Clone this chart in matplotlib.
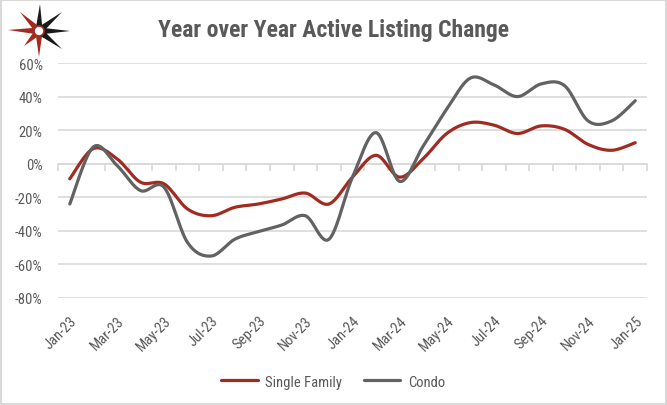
import numpy as np
import matplotlib
matplotlib.use("Agg")
from matplotlib import pyplot as plt
from matplotlib.patches import Polygon, Circle, Rectangle

# data (percent change, year over year)
months = ['Jan-23', 'Feb-23', 'Mar-23', 'Apr-23', 'May-23', 'Jun-23', 'Jul-23',
          'Aug-23', 'Sep-23', 'Oct-23', 'Nov-23', 'Dec-23', 'Jan-24', 'Feb-24',
          'Mar-24', 'Apr-24', 'May-24', 'Jun-24', 'Jul-24', 'Aug-24', 'Sep-24',
          'Oct-24', 'Nov-24', 'Dec-24', 'Jan-25']
single_family = [-9, 9, 3, -11, -12, -27, -31, -26, -24, -21, -17.5, -24, -8,
                 5, -8, 3, 18, 24.5, 23, 18, 22.5, 20.5, 11.5, 8, 12.5]
condo = [-24, 10, -1, -16, -14, -47, -55, -45, -40.5, -36.5, -31, -45, -8,
         18.5, -10.5, 10.5, 32.5, 51, 47, 40, 47.5, 46.5, 25.5, 25.5, 37.5]
y_ticks = [-80, -60, -40, -20, 0, 20, 40, 60]

RED = '#A12B21'
GREY = '#626262'
TXT = '#595959'
GRID = '#D9D9D9'

plt.rcParams['font.family'] = ['Roboto Condensed', 'Archivo Narrow', 'PT Sans Narrow',
                               'Liberation Sans', 'DejaVu Sans']


# excel style smoothed line (bezier through points, catmull-rom tangents)
def smooth(xs, ys, n=30):
    p = np.column_stack([xs, ys]).astype(float)
    p = np.vstack([p[0], p, p[-1]])
    out = []
    t = np.linspace(0, 1, n)[:, None]
    for k in range(1, len(p) - 2):
        p0, p1, p2, p3 = p[k - 1], p[k], p[k + 1], p[k + 2]
        c1 = p1 + (p2 - p0) / 6
        c2 = p2 - (p3 - p1) / 6
        seg = ((1 - t) ** 3) * p1 + 3 * ((1 - t) ** 2) * t * c1 + 3 * (1 - t) * t ** 2 * c2 + t ** 3 * p2
        out.append(seg if k == 1 else seg[1:])
    out = np.vstack(out)
    return out[:, 0], out[:, 1]


fig = plt.figure(figsize=(6.67, 4.06), dpi=100)
ax = fig.add_axes([58 / 667, 1 - 299 / 406, 589 / 667, 235 / 406])

x = np.arange(len(months))
sx, sy = smooth(x, single_family)
cx, cy = smooth(x, condo)
ax.plot(sx, sy, color=RED, lw=2.3, solid_capstyle='round', label='Single Family', zorder=3)
ax.plot(cx, cy, color=GREY, lw=2.3, solid_capstyle='round', label='Condo', zorder=4)

ax.set_xlim(-0.5, len(months) - 0.5)
ax.set_ylim(-80, 60)
ax.set_yticks(y_ticks)
ax.set_yticklabels([f'{v}%' for v in y_ticks])
ax.yaxis.grid(True, color=GRID, lw=1.2)
ax.set_axisbelow(True)
ax.tick_params(axis='y', length=0, pad=11, labelsize=10.5, labelcolor=TXT)

for s in ['top', 'right', 'left']:
    ax.spines[s].set_visible(False)
ax.spines['bottom'].set_position(('data', 0))
ax.spines['bottom'].set_color(GRID)
ax.spines['bottom'].set_linewidth(1.2)
ax.set_xticks(np.arange(-0.5, len(months), 1))
ax.tick_params(axis='x', length=5, width=1.2, color=GRID, labelbottom=False)

sec = ax.secondary_xaxis(0)
sec.set_xticks(x[::2])
sec.set_xticklabels(months[::2], rotation=45, ha='right', rotation_mode='anchor')
sec.tick_params(length=0, pad=11, labelsize=10.5, labelcolor=TXT)
sec.spines['bottom'].set_visible(False)

leg = ax.legend(loc='upper center', bbox_to_anchor=(0.467, -0.27), ncol=2, frameon=False,
                fontsize=10.5, handlelength=2.5, columnspacing=1.5, handletextpad=0.5)
for t in leg.get_texts():
    t.set_color(TXT)

fig.text(0.5, 1 - 30 / 406, 'Year over Year Active Listing Change', ha='center', va='center',
         fontsize=17, fontweight='bold', color=TXT)

# overlay for logo and frame, in pixel coords
ov = fig.add_axes([0, 0, 1, 1], zorder=-1)
ov.set_xlim(0, 667)
ov.set_ylim(406, 0)
ov.axis('off')
ov.add_patch(Rectangle((0.5, 0.5), 665, 404, fill=False, ec=GRID, lw=1.5))

center = np.array([39.0, 32.0])
rays = [((40, 5), '#1a1a1a'), ((70, 32), '#1a1a1a'), ((39, 58), RED), ((8, 31), RED),
        ((20, 13), RED), ((62, 13), '#1a1a1a'), ((62, 50), '#1a1a1a'), ((24, 47), RED)]
logo = fig.add_axes([0, 0, 1, 1], zorder=5)
logo.set_xlim(0, 667)
logo.set_ylim(406, 0)
logo.axis('off')
for tip, col in rays:
    tip = np.array(tip, float)
    d = tip - center
    d = d / np.linalg.norm(d)
    nrm = np.array([-d[1], d[0]])
    base = center + d * 5
    pts = [center, base + nrm * 3, tip, base - nrm * 3]
    logo.add_patch(Polygon(pts, closed=True, fc=col, ec='none'))
logo.add_patch(Circle(center, 5, fc='white', ec=RED, lw=1.2))

fig.savefig('out.png', dpi=100)
